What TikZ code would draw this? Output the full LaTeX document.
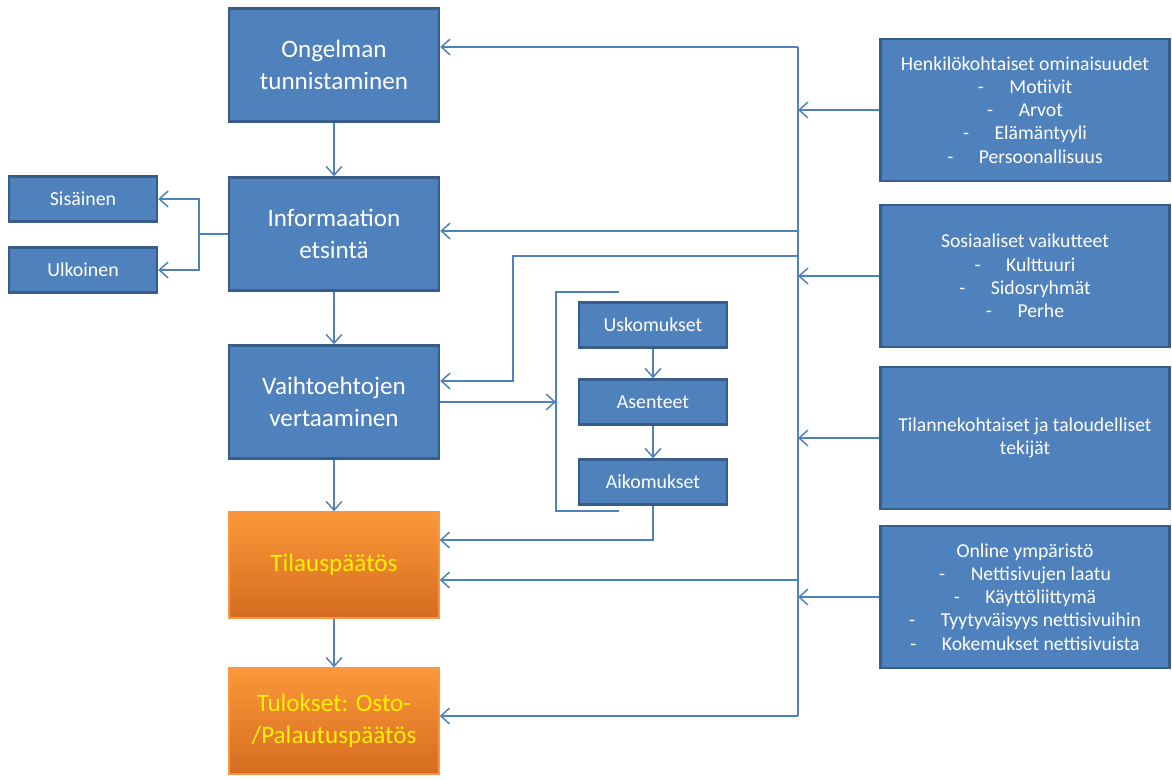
\documentclass[tikz,border=0pt]{standalone}
\usepackage{fontspec}
\setmainfont{Carlito}
\usepackage{tikz}
\usetikzlibrary{arrows.meta, positioning}
\definecolor{boxblue}{HTML}{4F81BD}
\definecolor{boxedge}{HTML}{385D8A}
\definecolor{orangetop}{HTML}{FB9838}
\definecolor{orangebot}{HTML}{D66C20}
\definecolor{orangeedge}{HTML}{F79646}
\tikzset{
  bluebox/.style={rectangle, draw=boxedge, line width=1.4pt, fill=boxblue, text=white, align=center},
  mainbox/.style={bluebox, minimum width=4.2cm, minimum height=2.26cm, font=\fontsize{14.3}{18}\selectfont},
  smallbox/.style={bluebox, minimum width=2.96cm, minimum height=0.9cm, font=\fontsize{11.3}{13}\selectfont},
  sidebox/.style={bluebox, minimum width=5.78cm, minimum height=2.84cm, font=\fontsize{11.2}{13.2}\selectfont},
  orangebox/.style={rectangle, draw=orangeedge, line width=0.8pt, top color=orangetop, bottom color=orangebot, text=yellow, align=center, minimum width=4.2cm, minimum height=2.12cm, font=\fontsize{14.3}{18}\selectfont},
  link/.style={draw=boxblue, line width=0.85pt, -{Straight Barb[length=5pt, width=9pt]}},
  wire/.style={draw=boxblue, line width=0.85pt}
}
\newcommand{\dashitem}[1]{-\hspace{1.3em}#1}
\begin{document}
\begin{tikzpicture}[x=0.02cm, y=-0.02cm]
    \useasboundingbox (0,0) rectangle (1172,780);

    % Main process (left column)
    \node[mainbox] (ongelma) at (334,65) {Ongelman\\tunnistaminen};
    \node[mainbox] (info) at (334,234) {Informaation\\etsintä};
    \node[mainbox] (vertailu) at (334,402) {Vaihtoehtojen\\vertaaminen};
    \node[orangebox] (tilaus) at (334,565) {Tilauspäätös};
    \node[orangebox] (tulos) at (334,721) {Tulokset: Osto-\\/Palautuspäätös};

    \draw[link] (ongelma) -- (info);
    \draw[link] (info) -- (vertailu);
    \draw[link] (vertailu) -- (tilaus);
    \draw[link] (tilaus) -- (tulos);

    % Information sources
    \node[smallbox] (sisainen) at (83,199) {Sisäinen};
    \node[smallbox] (ulkoinen) at (83,270) {Ulkoinen};
    \coordinate (haara) at (199,234);
    \draw[wire] (info.west) -- (haara);
    \draw[link] (haara) |- (sisainen.east);
    \draw[link] (haara) |- (ulkoinen.east);

    % Beliefs, attitudes, intentions
    \node[smallbox] (usko) at (653,325) {Uskomukset};
    \node[smallbox] (asenne) at (653,402) {Asenteet};
    \node[smallbox] (aikomus) at (653,482) {Aikomukset};
    \draw[link] (usko) -- (asenne);
    \draw[link] (asenne) -- (aikomus);
    \draw[wire] (619,292) -- (556,292) -- (556,511) -- (619,511);
    \coordinate (hakanen) at (556,402);
    \draw[link] (vertailu.east) -- (hakanen);
    \draw[link] (aikomus.south) |- (tilaus.east |- 0,540);

    % Influencing factors (right column)
    \node[sidebox] (henk) at (1025,110) {Henkilökohtaiset ominaisuudet\\\dashitem{Motiivit}\\\dashitem{Arvot}\\\dashitem{Elämäntyyli}\\\dashitem{Persoonallisuus}};
    \node[sidebox] (sos) at (1025,276) {Sosiaaliset vaikutteet\\\dashitem{Kulttuuri}\\\dashitem{Sidosryhmät}\\\dashitem{Perhe}};
    \node[sidebox] (tilanne) at (1025,438) {Tilannekohtaiset ja taloudelliset\\tekijät};
    \node[sidebox] (online) at (1025,597) {Online ympäristö\\\dashitem{Nettisivujen laatu}\\\dashitem{Käyttöliittymä}\\\dashitem{Tyytyväisyys nettisivuihin}\\\dashitem{Kokemukset nettisivuista}};

    % Collecting line
    \coordinate (kisko1) at (798,47);
    \coordinate (kisko2) at (798,716);
    \draw[wire] (kisko1) -- (kisko2);
    \draw[link] (henk.west) -- (henk.west -| kisko1);
    \draw[link] (sos.west) -- (sos.west -| kisko1);
    \draw[link] (tilanne.west) -- (tilanne.west -| kisko1);
    \draw[link] (online.west) -- (online.west -| kisko1);

    % Feedback to the process
    \draw[link] (kisko1) -- (ongelma.east |- kisko1);
    \draw[link] (798,231) -- (info.east |- 0,231);
    \draw[link] (798,256) -- (513,256) -- (513,381) -- (vertailu.east |- 0,381);
    \draw[link] (798,580) -- (tilaus.east |- 0,580);
    \draw[link] (kisko2) -- (tulos.east |- kisko2);
\end{tikzpicture}
\end{document}
